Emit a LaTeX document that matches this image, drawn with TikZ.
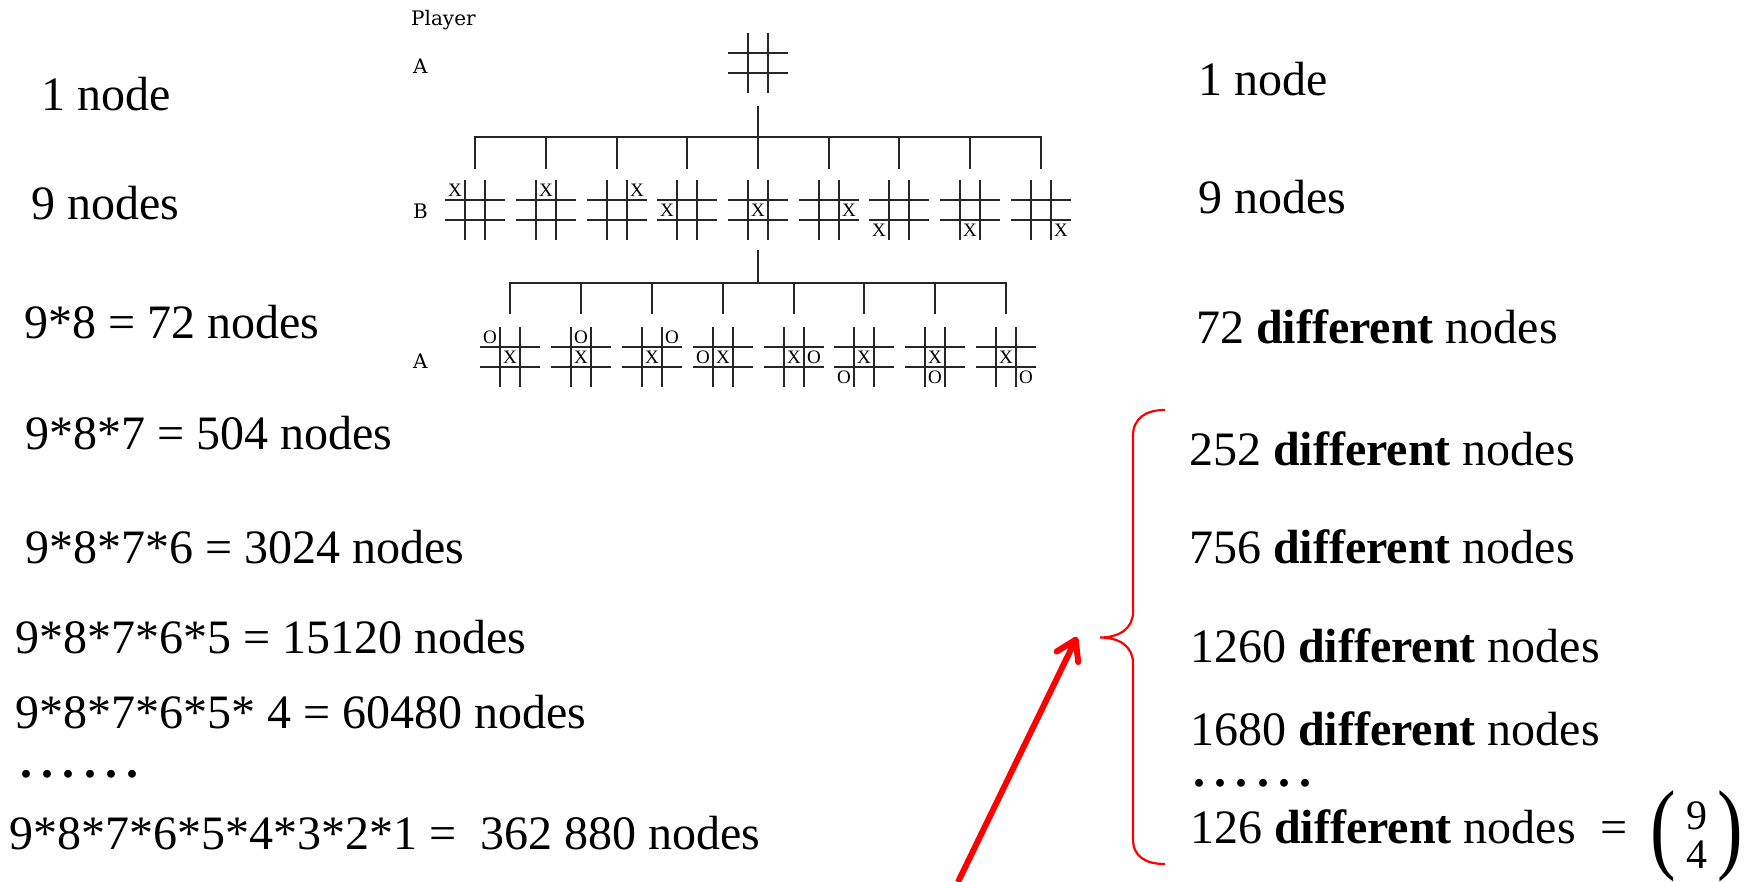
\documentclass[tikz,border=0pt]{standalone}
\usepackage{fontspec}
\setmainfont{Liberation Serif}
\newfontfamily\treefont{DejaVu Serif}
\usetikzlibrary{arrows.meta,calc}

% a mark (X or O) in cell (col,row) of a board, cols/rows counted 0..2 from top left
\newcommand\putmark[5]{%
  \node[cellmark] (#1#5) at ([xshift={(#2-1)*20pt}, yshift={(1-#3)*20pt}]#1.center) {#4};}
% a row of six heavy dots
\newcommand\sixdots{\textbf{.\hspace{9.3pt}.\hspace{9.3pt}.\hspace{9.3pt}.\hspace{9.3pt}.\hspace{9.3pt}.}}

\begin{document}
\begin{tikzpicture}[x=1pt,y=-1pt,
  big/.style={font=\fontsize{48}{58}\selectfont, anchor=base west, inner sep=0},
  small/.style={font=\treefont\fontsize{20}{24}\selectfont, anchor=base west, inner sep=0},
  gridline/.style={line width=2.3pt, black!85},
  treeline/.style={line width=1.8pt, black!85},
  cellmark/.style={font=\fontsize{19}{19}\selectfont, inner sep=0},
  board/.style={minimum size=60pt, inner sep=0, path picture={
    \foreach \t in {20,40}{
      \draw[gridline] ([xshift=\t pt]path picture bounding box.north west)
        -- ([xshift=\t pt]path picture bounding box.south west);
      \draw[gridline] ([yshift=-\t pt]path picture bounding box.north west)
        -- ([yshift=-\t pt]path picture bounding box.north east);
    }}},
  paren/.style={inner sep=0, font=\fontsize{48}{58}\selectfont},
  digit/.style={inner sep=0, font=\fontsize{42}{48}\selectfont},
  bracepath/.style={red, line width=2.2pt},
  redarrow/.style={red, line width=6pt, -{Straight Barb[length=19pt,width=24pt,round]}}]

\fill[white] (0,0) rectangle (1752,882);
\useasboundingbox (0,0) rectangle (1752,882);

% ---------- game tree ----------
\node[small] (player) at (411,26) {Player};
\node[small] (levA) at (413,74) {A};
\node[small] (levB) at (413,219) {B};
\node[small] (levC) at (413,368) {A};

\node[board] (root) at (758,63) {};
\foreach \x [count=\i] in {475,546,617,687,758,829,899,970,1041}
  \node[board] (b\i) at (\x,210) {};
\foreach \x [count=\i] in {510,581,652,723,794,864,935,1006}
  \node[board] (a\i) at (\x,357) {};

% first move: X in each of the nine cells
\foreach \i in {1,...,9}{
  \pgfmathtruncatemacro\c{mod(\i-1,3)}
  \pgfmathtruncatemacro\r{div(\i-1,3)}
  \putmark{b\i}{\c}{\r}{X}{x}
}
% reply to a centre X: O in each free cell
\foreach [count=\i] \c/\r in {0/0,1/0,2/0,0/1,2/1,0/2,1/2,2/2}{
  \putmark{a\i}{1}{1}{X}{x}
  \putmark{a\i}{\c}{\r}{O}{o}
}

\foreach \i in {1,...,9}
  \draw[treeline] ([yshift=-13pt]root.south) |- ([yshift=43pt]b\i.north)
    -- ([yshift=11pt]b\i.north);
\foreach \i in {1,...,8}
  \draw[treeline] ([yshift=-10pt]b5.south) |- ([yshift=44pt]a\i.north)
    -- ([yshift=13pt]a\i.north);

% ---------- counts, left ----------
\node[big] (l1) at (41,110.5) {1 node};
\node[big] (l2) at (31,220) {9 nodes};
\node[big] (l3) at (24,338) {9*8 = 72 nodes};
\node[big] (l4) at (25,449) {9*8*7 = 504 nodes};
\node[big] (l5) at (25,563) {9*8*7*6 = 3024 nodes};
\node[big] (l6) at (15,653) {9*8*7*6*5 = 15120 nodes};
\node[big] (l7) at (15,728) {9*8*7*6*5* 4 = 60480 nodes};
\node[big] (l8) at (20,777.5) {\sixdots};
\node[big] (l9) at (9,849) {9*8*7*6*5*4*3*2*1 =\ \ 362 880 nodes};

% ---------- counts, right ----------
\node[big] (r1) at (1198,96) {1 node};
\node[big] (r2) at (1198,214) {9 nodes};
\node[big] (r3) at (1196,343) {72 \textbf{different} nodes};
\node[big] (r4) at (1189,465) {252 \textbf{different} nodes};
\node[big] (r5) at (1189,563) {756 \textbf{different} nodes};
\node[big] (r6) at (1190,662) {1260 \textbf{different} nodes};
\node[big] (r7) at (1190,745) {1680 \textbf{different} nodes};
\node[big] (r8) at (1193,786) {\sixdots};
\node[big] (r9) at (1190,843) {126 \textbf{different} nodes};
\node[big] (eq) at (1600,843) {=};
\node[paren] (lpar) at (1663,836) {\scalebox{1.6}[2.1]{(}};
\node[paren] (rpar) at (1730,836) {\scalebox{1.6}[2.1]{)}};
\node[digit] (top) at (1697,816) {9};
\node[digit] (bot) at (1697,855) {4};

% ---------- brace and arrow ----------
\coordinate (bracetip) at (1100,637.5);
\draw[bracepath] (1165,410) .. controls (1146,410) and (1133,418) .. (1133,436)
  -- (1133,612) .. controls (1133,628) and (1120,637.5) .. (bracetip)
  .. controls (1120,637.5) and (1133,647) .. (1133,663)
  -- (1133,839) .. controls (1133,857) and (1146,864) .. (1165,864);

\coordinate (arrowtail) at (958,882);
\coordinate (arrowtip) at (1077,637);
\draw[redarrow] (arrowtail) -- (arrowtip);
\end{tikzpicture}
\end{document}
